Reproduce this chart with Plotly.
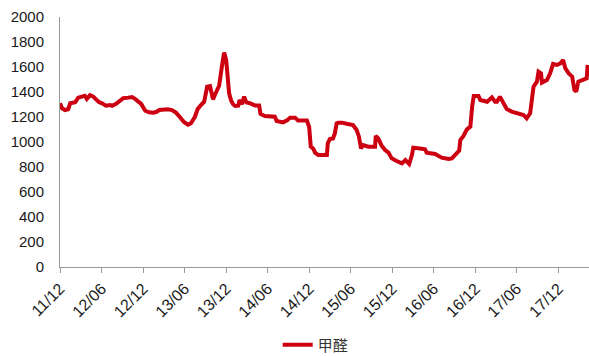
import plotly.graph_objects as go

# Formaldehyde price series (yuan/ton)
dates = [
    "2011-12-01", "2011-12-10", "2011-12-23", "2012-01-06", "2012-01-15", "2012-01-28",
    "2012-02-06", "2012-02-19", "2012-03-06", "2012-03-19", "2012-03-28", "2012-04-11",
    "2012-04-24", "2012-05-03", "2012-05-20", "2012-06-03", "2012-06-20", "2012-07-08",
    "2012-07-17", "2012-08-04", "2012-08-21", "2012-09-04", "2012-09-26", "2012-10-13",
    "2012-10-26", "2012-11-09", "2012-11-22", "2012-12-10", "2012-12-27", "2013-01-14",
    "2013-01-27", "2013-02-10", "2013-03-02", "2013-03-19", "2013-04-06", "2013-04-24",
    "2013-05-11", "2013-05-29", "2013-06-16", "2013-06-29", "2013-07-16", "2013-07-29",
    "2013-08-12", "2013-08-26", "2013-09-04", "2013-09-08", "2013-09-21", "2013-09-30",
    "2013-10-04", "2013-10-13", "2013-10-22", "2013-10-31", "2013-11-12", "2013-11-22",
    "2013-12-01", "2013-12-07", "2013-12-14", "2013-12-23", "2014-01-01", "2014-01-10",
    "2014-01-23", "2014-01-29", "2014-02-08", "2014-02-18", "2014-02-28", "2014-03-15",
    "2014-04-06", "2014-04-25", "2014-05-01", "2014-05-20", "2014-07-03", "2014-07-11",
    "2014-08-08", "2014-08-26", "2014-09-08", "2014-09-30", "2014-10-13", "2014-11-21",
    "2014-12-01", "2014-12-08", "2014-12-20", "2014-12-27", "2015-01-10", "2015-02-17",
    "2015-02-21", "2015-03-02", "2015-03-16", "2015-03-24", "2015-04-01", "2015-04-07",
    "2015-04-24", "2015-05-20", "2015-06-12", "2015-06-28", "2015-07-08", "2015-07-17",
    "2015-07-27", "2015-08-18", "2015-09-17", "2015-09-20", "2015-10-01", "2015-10-16",
    "2015-10-31", "2015-11-15", "2015-11-29", "2015-12-21", "2016-01-13", "2016-01-28",
    "2016-02-14", "2016-02-26", "2016-03-03", "2016-04-02", "2016-04-24", "2016-05-01",
    "2016-06-07", "2016-07-06", "2016-08-05", "2016-08-20", "2016-09-04", "2016-09-21",
    "2016-09-26", "2016-10-10", "2016-10-25", "2016-11-09", "2016-11-17", "2016-11-24",
    "2016-12-15", "2016-12-23", "2017-01-22", "2017-02-12", "2017-02-26", "2017-03-06",
    "2017-03-19", "2017-04-04", "2017-04-18", "2017-05-10", "2017-06-09", "2017-07-01",
    "2017-07-15", "2017-07-30", "2017-08-14", "2017-08-29", "2017-09-05", "2017-09-16",
    "2017-09-20", "2017-10-12", "2017-10-26", "2017-11-08", "2017-11-25", "2017-12-10",
    "2017-12-22", "2018-01-01", "2018-01-16", "2018-01-31", "2018-02-10", "2018-02-18",
    "2018-02-27", "2018-03-21", "2018-04-05", "2018-04-09",
]

prices = [
    1310, 1270, 1256, 1262, 1310, 1315,
    1318, 1355, 1365, 1370, 1345, 1375,
    1365, 1349, 1320, 1309, 1291, 1295,
    1290, 1305, 1325, 1350, 1355, 1360,
    1345, 1320, 1305, 1250, 1238, 1235,
    1240, 1256, 1262, 1262, 1255, 1235,
    1200, 1160, 1138, 1150, 1200, 1265,
    1296, 1322, 1400, 1443, 1448, 1390,
    1341, 1380, 1416, 1450, 1603, 1715,
    1656, 1509, 1389, 1330, 1300, 1288,
    1291, 1336, 1302, 1363, 1317, 1310,
    1293, 1293, 1224, 1208, 1203, 1168,
    1157, 1173, 1195, 1195, 1173, 1173,
    1120, 963, 944, 915, 896, 896,
    989, 1024, 1029, 1069, 1149, 1155,
    1155, 1144, 1136, 1096, 1043, 949,
    976, 963, 963, 1048, 1029, 971,
    936, 915, 869, 848, 829, 856,
    824, 896, 955, 948, 941, 915,
    904, 875, 864, 869, 904, 931,
    1016, 1048, 1101, 1123, 1283, 1368,
    1368, 1336, 1322, 1357, 1322, 1322,
    1363, 1309, 1264, 1243, 1229, 1216,
    1189, 1229, 1443, 1483, 1563, 1549,
    1475, 1496, 1549, 1624, 1616, 1629,
    1656, 1589, 1549, 1523, 1416, 1403,
    1483, 1501, 1509, 1616,
]

series_name = "甲醛"

x_tick_dates = [
    "2011-12-01", "2012-06-01", "2012-12-01", "2013-06-01", "2013-12-01",
    "2014-06-01", "2014-12-01", "2015-06-01", "2015-12-01", "2016-06-01",
    "2016-12-01", "2017-06-01", "2017-12-01",
]
x_tick_labels = [
    "11/12", "12/06", "12/12", "13/06", "13/12", "14/06", "14/12",
    "15/06", "15/12", "16/06", "16/12", "17/06", "17/12",
]
y_ticks = [0, 200, 400, 600, 800, 1000, 1200, 1400, 1600, 1800, 2000]

axis_gray = "#9a9a9a"
line_red = "#CC0011"

fig = go.Figure(
    go.Scatter(
        x=dates,
        y=prices,
        mode="lines",
        name=series_name,
        line=dict(color=line_red, width=4),
    )
)

fig.update_layout(
    width=589,
    height=356,
    margin=dict(l=60, r=0, t=17, b=89),
    paper_bgcolor="white",
    plot_bgcolor="white",
    font=dict(family="Liberation Sans, Arial, sans-serif", size=15, color="#1a1a1a"),
    showlegend=True,
    legend=dict(
        orientation="h",
        xref="container",
        yref="container",
        x=0.536,
        y=0.031,
        xanchor="center",
        yanchor="middle",
        font=dict(family="Noto Sans CJK SC, sans-serif", size=15, color="#333333"),
        itemwidth=30,
    ),
)

fig.update_xaxes(
    type="date",
    range=["2011-12-01", "2018-04-15"],
    tickvals=x_tick_dates,
    ticktext=x_tick_labels,
    tickangle=-45,
    tickfont=dict(size=16),
    ticks="outside",
    ticklen=5,
    tickcolor=axis_gray,
    showline=True,
    linecolor=axis_gray,
    linewidth=1,
    showgrid=False,
    zeroline=False,
)

fig.update_yaxes(
    range=[0, 2000],
    tickvals=y_ticks,
    ticks="",
    ticklabelstandoff=12,
    showline=True,
    linecolor=axis_gray,
    linewidth=1,
    showgrid=False,
    zeroline=False,
)

fig.write_html("out.html")
